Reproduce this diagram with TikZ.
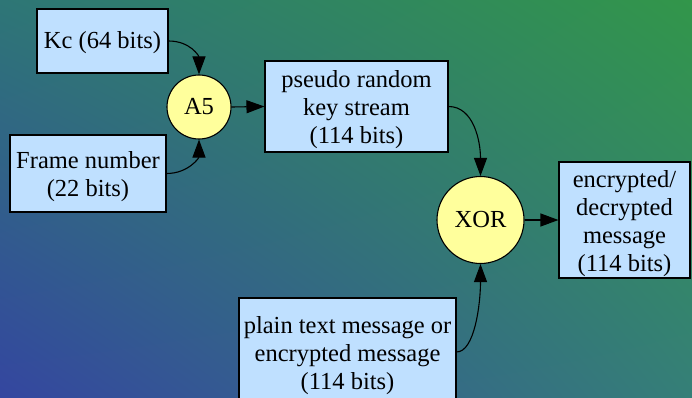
\documentclass[tikz,border=0pt]{standalone}
\usepackage{fontspec}
\setmainfont{Liberation Serif}
\usetikzlibrary{arrows.meta,shadings}

\definecolor{bgblue}{HTML}{3446A0}
\definecolor{bggreen}{HTML}{32964A}
\definecolor{bgtealA}{HTML}{2E7676}
\definecolor{bgtealB}{HTML}{357F78}
\definecolor{boxblue}{HTML}{BFE0FF}
\definecolor{discyellow}{HTML}{FFFF9C}

% taller first line, so that the text sits a bit lower in its box
\newcommand{\firstline}{\rule{0pt}{24pt}}

\begin{document}
\begin{tikzpicture}[x=1pt, y=-1pt,
	databox/.style={draw, line width=1.1pt, fill=boxblue, inner sep=0pt,
		align=center, font=\fontsize{24.5}{28}\selectfont},
	opdisc/.style={draw, line width=1.1pt, fill=discyellow, circle, inner sep=0pt,
		font=\fontsize{24.5}{28}\selectfont},
	flow/.style={line width=1.1pt, -{Triangle[length=18pt, width=13pt]}}]

	% ---- background

	\useasboundingbox (0,0) rectangle (692,398);
	\clip (0,0) rectangle (692,398);
	\shade[upper left=bgtealA, upper right=bggreen,
		lower left=bgblue, lower right=bgtealB] (0,0) rectangle (692,398);

	% ---- inputs

	\node[databox, minimum width=131pt, minimum height=64pt, text depth=1pt]
		(kc) at (102.5,41) {Kc (64 bits)};
	\node[databox, minimum width=156pt, minimum height=77pt]
		(frame) at (88,173.5) {\firstline Frame number\\(22 bits)};

	% ---- operations

	\node[opdisc, minimum size=64pt] (a5) at (199,107) {A5};
	\node[opdisc, minimum size=87pt] (xor) at (480.5,220) {XOR};

	% ---- streams

	\node[databox, minimum width=183pt, minimum height=91pt]
		(keystream) at (356.5,106.5) {\firstline pseudo random\\key stream\\(114 bits)};
	\node[databox, minimum width=217pt, minimum height=108pt]
		(plain) at (347.5,352) {\firstline plain text message or\\encrypted message\\(114 bits)};
	\node[databox, minimum width=131pt, minimum height=116pt]
		(cipher) at (624.5,220) {\firstline encrypted/\\decrypted\\message\\(114 bits)};

	% ---- edges

	\draw[flow] (kc.east) .. controls +(22,0) and +(0,-18) .. (a5.north);
	\draw[flow] (frame.east) .. controls +(22,0) and +(0,18) .. (a5.south);
	\draw[flow] (a5.east) -- (keystream.west);
	\draw[flow] (keystream.east) .. controls +(25,0) and +(0,-35) .. (xor.north);
	\draw[flow] (plain.east) .. controls +(18,0) and +(0,40) .. (xor.south);
	\draw[flow] (xor.east) -- (cipher.west);

\end{tikzpicture}
\end{document}
